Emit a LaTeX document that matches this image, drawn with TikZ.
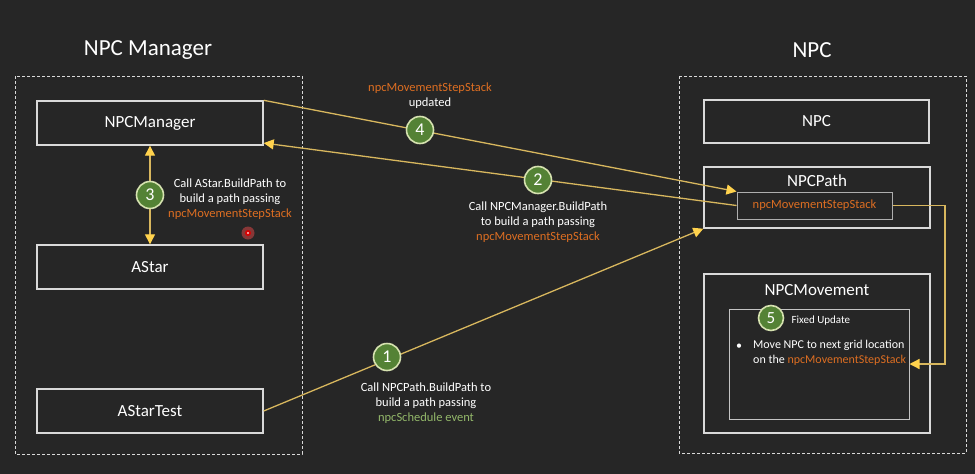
\documentclass[tikz,border=0pt]{standalone}
\usepackage{fontspec}
\setmainfont{Carlito}
\usetikzlibrary{arrows.meta,calc}
\definecolor{bg}{HTML}{262626}
\definecolor{boxline}{HTML}{D9D9D9}
\definecolor{conn}{HTML}{D8B75E}
\definecolor{tipc}{HTML}{FFD24D}
\definecolor{numfill}{HTML}{548235}
\definecolor{numline}{HTML}{D6E2B0}
\definecolor{orangetxt}{HTML}{DD6E22}
\definecolor{greentxt}{HTML}{93B86A}
\tikzset{
  box/.style={draw=boxline, line width=1.4pt, minimum width=226pt, minimum height=44pt, inner sep=0pt},
  boxtitle/.style={text=white, font=\fontsize{17}{17}\selectfont},
  frame/.style={draw=boxline, line width=1pt, dash pattern=on 3pt off 2pt},
  bigtitle/.style={text=white, font=\fontsize{23}{23}\selectfont},
  conline/.style={draw=conn, line width=1.3pt},
  tipend/.style={arrows={-Triangle[length=10pt,width=10pt,color=tipc]}},
  bothend/.style={arrows={Triangle[length=10pt,width=10pt,color=tipc]-Triangle[length=10pt,width=10pt,color=tipc]}},
  numc/.style={circle, fill=numfill, draw=numline, line width=1.6pt, minimum size=27pt, inner sep=0pt, text=white, font=\fontsize{18}{18}\selectfont},
  small/.style={text=white, align=center, font=\fontsize{12.5}{15}\selectfont},
}
\begin{document}
\begin{tikzpicture}[x=1pt,y=-1pt]
\fill[bg] (0,0) rectangle (975,474);
\useasboundingbox (0,0) rectangle (975,474);

% titles
\node[bigtitle] (tmgr) at (148,50) {NPC Manager};
\node[bigtitle] (tnpc) at (812,50) {NPC};

% frames
\draw[frame] (15,76) rectangle (302,454);
\draw[frame] (679,76) rectangle (966,453);

% left boxes
\node[box, boxtitle] (mgr) at (150,123) {NPCManager};
\node[box, boxtitle] (astar) at (150,267) {AStar};
\node[box, boxtitle] (astartest) at (150,411) {AStarTest};

% right boxes
\node[box, boxtitle, minimum width=225pt, minimum height=43pt] (npc) at (816.5,121.5) {NPC};
\node[box, minimum height=61pt] (npcpath) at (817,197.5) {};
\node[boxtitle] (pathtitle) at (817,181) {NPCPath};
\node[draw=boxline!80!black, line width=1pt, minimum width=155pt, minimum height=27pt, inner sep=0pt,
      text=orangetxt, font=\fontsize{12.5}{12.5}\selectfont] (stack) at (814.5,205.5) {npcMovementStepStack};
\node[box, minimum height=159pt] (npcmove) at (817,353.5) {};
\node[boxtitle] (movetitle) at (817,290) {NPCMovement};
\node[draw=boxline!90!black, line width=1pt, minimum width=180pt, minimum height=110pt, inner sep=0pt] (inner) at (819,364) {};
\node[text=white, font=\fontsize{11}{11}\selectfont, anchor=west] (fixed) at (788,321) {Fixed Update};
\node[text=white, font=\fontsize{12}{12}\selectfont] (bullet) at (739,347) {•};
\node[text=white, align=left, anchor=north west, inner sep=0pt, font=\fontsize{12}{14.5}\selectfont] (movetxt) at (753,340)
  {Move NPC to next grid location\\on the \textcolor{orangetxt}{npcMovementStepStack}};

% connectors
\draw[conline, bothend] (mgr.south) -- (astar.north);
\draw[conline, tipend] (mgr.north east) -- (stack.north west);
\draw[conline, tipend] (stack.west) -- (mgr.-10);
\draw[conline, tipend] (astartest.east) -- (npcpath.south west);
\coordinate (turn) at (945,205.5);
\draw[conline, tipend] (stack.east) -- (turn) |- (inner.east);

% number circles
\node[numc] (n3) at (150,195) {3};
\node[numc] (n4) at (420,130) {4};
\node[numc] (n2) at (538,180) {2};
\node[numc] (n1) at (387,357) {1};
\node[numc, minimum size=25pt, font=\fontsize{17}{17}\selectfont] (n5) at (771,318) {5};

% labels
\node[small] (l3) at (230,199) {Call AStar.BuildPath to\\build a path passing\\\textcolor{orangetxt}{npcMovementStepStack}};
\node[small] (l4) at (430,95.5) {\textcolor{orangetxt}{npcMovementStepStack}\\updated};
\node[small] (l2) at (538,222) {Call NPCManager.BuildPath\\to build a path passing\\\textcolor{orangetxt}{npcMovementStepStack}};
\node[small] (l1) at (426,403) {Call NPCPath.BuildPath to\\build a path passing\\\textcolor{greentxt}{npcSchedule event}};

% red cursor dot
\fill[red!70!white, opacity=0.45] (248,233) circle (6.5);
\fill[red!85!black] (248,233) circle (3);
\fill[red!20!white] (248,233) circle (1.2);
\end{tikzpicture}
\end{document}
